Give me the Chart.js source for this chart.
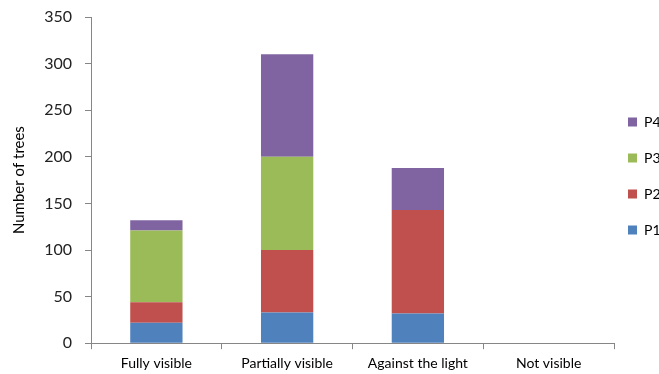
<!DOCTYPE html>
<html>
<head>
<meta charset="utf-8">
<script src="https://cdn.jsdelivr.net/npm/chart.js@4/dist/chart.umd.min.js"></script>
<style>
  html, body { margin: 0; padding: 0; background: #fff; overflow: hidden; }
</style>
</head>
<body>
<canvas id="treeChart" width="669" height="374"></canvas>
<script>
// visibility classes on the x axis
var categories = ["Fully visible", "Partially visible", "Against the light", "Not visible"];

// tree counts per class, one array per P group
var p1 = [22, 33, 32, 0];
var p2 = [22, 67, 111, 0];
var p3 = [77, 100, 0, 0];
var p4 = [11, 110, 45, 0];

var yTicks = [0, 50, 100, 150, 200, 250, 300, 350];

var axisGrey = "#868686";
var font = "Lato";

function series(label, data, color) {
  return { label: label, data: data, backgroundColor: color, borderWidth: 0 };
}

const treeChart = new Chart("treeChart", {
  type: "bar",
  data: {
    labels: categories,
    datasets: [
      series("P1", p1, "#4F81BD"),
      series("P2", p2, "#C0504D"),
      series("P3", p3, "#9BBB59"),
      series("P4", p4, "#8064A2")
    ]
  },
  options: {
    responsive: false,
    animation: false,
    datasets: { bar: { barPercentage: 0.4, categoryPercentage: 1 } },
    layout: { padding: { top: 0, bottom: -4, left: 0, right: 0 } },
    plugins: {
      tooltip: { enabled: false },
      legend: {
        position: "right",
        reverse: true,
        fullSize: false,
        maxWidth: 55,
        labels: {
          boxWidth: 9,
          boxHeight: 9,
          padding: 14,
          color: "#000",
          font: { family: font, size: 14, lineHeight: "22px" },
          // wrap the text so each entry takes the taller line height
          generateLabels: function (chart) {
            var items = Chart.defaults.plugins.legend.labels.generateLabels(chart);
            items.forEach(function (it) { it.text = [it.text]; });
            return items;
          }
        }
      }
    },
    scales: {
      x: {
        stacked: true,
        grid: { drawOnChartArea: false, tickLength: 6, color: axisGrey },
        border: { color: axisGrey },
        ticks: { color: "#000", padding: 6, font: { family: font, size: 14 } }
      },
      y: {
        stacked: true,
        min: yTicks[0],
        max: yTicks[yTicks.length - 1],
        // small line height keeps the top label from pushing the plot down
        ticks: { stepSize: 50, padding: 13, color: "#222", font: { family: font, size: 16, lineHeight: 0.5 } },
        grid: { drawOnChartArea: false, tickLength: 6, color: axisGrey },
        border: { color: axisGrey },
        title: {
          display: true,
          text: "Number of trees",
          color: "#000",
          font: { family: font, size: 15 },
          padding: { top: 10, bottom: 4 }
        },
        afterFit: function (scale) { scale.width = 91; }
      }
    }
  }
});
</script>
</body>
</html>
